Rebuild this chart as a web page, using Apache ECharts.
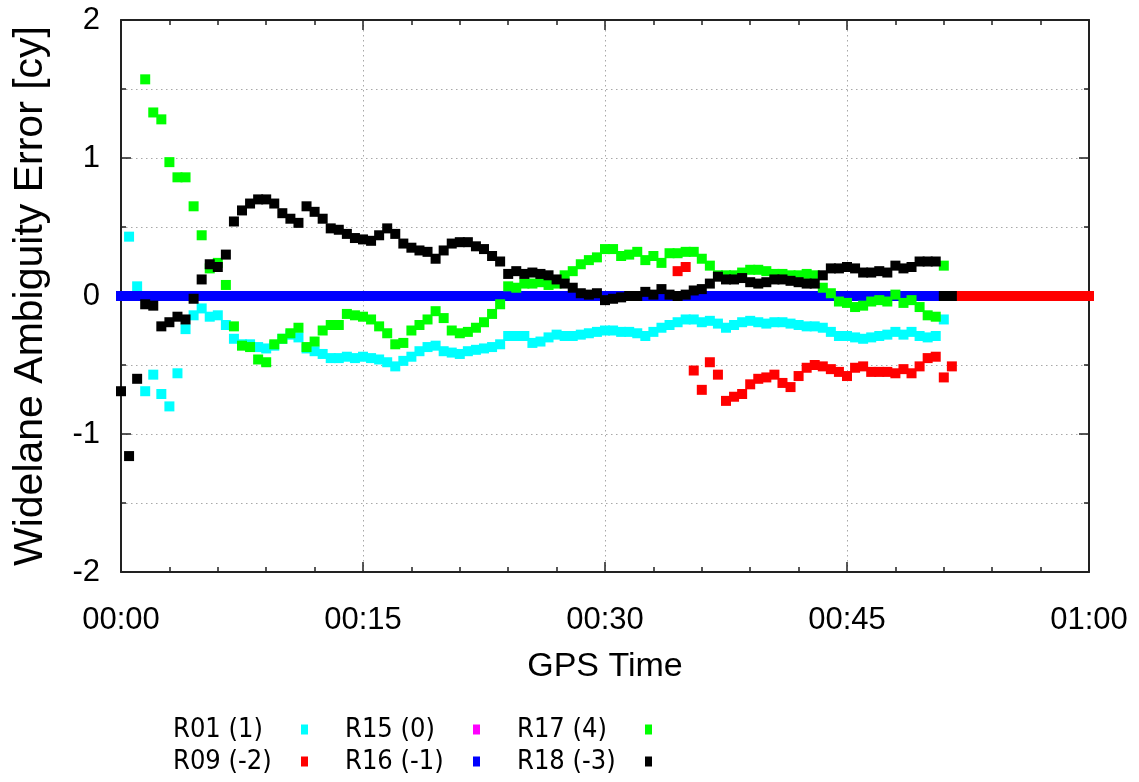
<!DOCTYPE html>
<html>
<head>
<meta charset="utf-8">
<script src="https://cdn.jsdelivr.net/npm/echarts@6/dist/echarts.min.js"></script>
<style>
html,body{margin:0;padding:0;background:#ffffff;}
#chart{width:1139px;height:782px;}
</style>
</head>
<body>
<div id="chart"></div>
<script>
// ---- data (epoch spacing 30 s = 0.5 min; x in minutes of GPS time) ----
const EPOCH_MIN = 0.5;
const xTickMinutes = [0, 15, 30, 45, 60];
const yTickValues = [-2, -1, 0, 1, 2];

const names  = ['R01 (1)', 'R09 (-2)', 'R15 (0)', 'R16 (-1)', 'R17 (4)', 'R18 (-3)'];
const colors = ['#00ffff', '#ff0000', '#ff00ff', '#0000ff', '#00ff00', '#000000'];

// R01 (cyan) starts at epoch 1
const r01Start = 1;
const r01 = [0.43, 0.07, -0.69, -0.57, -0.71, -0.80, -0.56, -0.24, -0.14, -0.09,
  -0.15, -0.14, -0.21, -0.31, -0.35, -0.35, -0.37, -0.38, -0.36, -0.31,
  -0.28, -0.30, -0.38, -0.40, -0.42, -0.45, -0.45, -0.44, -0.45, -0.44,
  -0.45, -0.46, -0.48, -0.51, -0.47, -0.44, -0.40, -0.37, -0.36, -0.40,
  -0.41, -0.42, -0.40, -0.39, -0.38, -0.37, -0.35, -0.29, -0.29, -0.29,
  -0.34, -0.33, -0.30, -0.28, -0.29, -0.29, -0.28, -0.27, -0.26, -0.25,
  -0.25, -0.26, -0.26, -0.27, -0.29, -0.26, -0.23, -0.21, -0.19, -0.17,
  -0.17, -0.19, -0.18, -0.20, -0.23, -0.21, -0.19, -0.18, -0.19, -0.20,
  -0.19, -0.19, -0.20, -0.21, -0.22, -0.22, -0.23, -0.26, -0.29, -0.29,
  -0.30, -0.31, -0.30, -0.29, -0.28, -0.26, -0.28, -0.26, -0.29, -0.30,
  -0.29, -0.17];

// R09 (red) starts at epoch 69
const r09Start = 69;
const r09 = [0.18, 0.21, -0.54, -0.68, -0.48, -0.57, -0.76, -0.73, -0.71, -0.64,
  -0.60, -0.59, -0.57, -0.63, -0.66, -0.58, -0.52, -0.50, -0.51, -0.53,
  -0.55, -0.58, -0.52, -0.51, -0.55, -0.55, -0.55, -0.56, -0.53, -0.56,
  -0.51, -0.45, -0.44, -0.59, -0.51,
  0, 0, 0, 0, 0, 0, 0, 0, 0, 0, 0, 0, 0, 0, 0, 0, 0];

// R15 (magenta): no points
const r15Start = 0;
const r15 = [];

// R16 (blue) starts at epoch 0
const r16Start = 0;
const r16 = [0, 0, 0, 0, 0, 0, 0, 0, 0, 0, 0, 0, 0, 0, 0, 0, 0, 0, 0, 0,
  0, 0, 0, 0, 0, 0, 0, 0, 0, 0, 0, 0, 0, 0, 0, 0, 0, 0, 0, 0,
  0, 0, 0, 0, 0, 0, 0, 0, 0, 0, 0, 0, 0, 0, 0, 0, 0, 0, 0, 0,
  0, 0, 0, 0, 0, 0, 0, 0, 0, 0, 0, 0, 0, 0, 0, 0, 0, 0, 0, 0,
  0, 0, 0, 0, 0, 0, 0, 0, 0, 0, 0, 0, 0, 0, 0, 0, 0, 0, 0, 0,
  0, 0];

// R17 (green) starts at epoch 3
const r17Start = 3;
const r17 = [1.57, 1.33, 1.28, 0.97, 0.86, 0.86, 0.65, 0.44, 0.20, 0.24,
  0.08, -0.22, -0.36, -0.37, -0.46, -0.48, -0.35, -0.31, -0.27, -0.23,
  -0.37, -0.33, -0.25, -0.21, -0.21, -0.13, -0.14, -0.15, -0.17, -0.22,
  -0.27, -0.35, -0.34, -0.25, -0.21, -0.17, -0.11, -0.16, -0.25, -0.27,
  -0.26, -0.23, -0.19, -0.13, -0.06, 0.07, 0.06, 0.09, 0.09, 0.10,
  0.08, 0.09, 0.15, 0.18, 0.23, 0.26, 0.28, 0.34, 0.34, 0.29,
  0.30, 0.32, 0.26, 0.29, 0.24, 0.31, 0.31, 0.32, 0.32, 0.27,
  0.22, 0.15, 0.15, 0.15, 0.17, 0.19, 0.19, 0.18, 0.16, 0.16,
  0.15, 0.15, 0.16, 0.15, 0.06, 0.02, -0.04, -0.05, -0.08, -0.07,
  -0.04, -0.03, -0.04, 0.01, -0.05, -0.03, -0.08, -0.14, -0.15, 0.22];

// R18 (black) starts at epoch 0
const r18Start = 0;
const r18 = [-0.69, -1.16, -0.60, -0.06, -0.07, -0.22, -0.19, -0.15, -0.17, -0.02,
  0.12, 0.23, 0.21, 0.30, 0.54, 0.62, 0.67, 0.70, 0.70, 0.67,
  0.60, 0.56, 0.53, 0.65, 0.61, 0.56, 0.49, 0.48, 0.45, 0.42,
  0.41, 0.40, 0.44, 0.49, 0.45, 0.38, 0.35, 0.33, 0.32, 0.27,
  0.33, 0.38, 0.39, 0.39, 0.36, 0.34, 0.29, 0.25, 0.16, 0.18,
  0.16, 0.17, 0.16, 0.15, 0.12, 0.09, 0.06, 0.02, 0.01, 0.02,
  -0.03, -0.02, -0.01, 0.00, 0.00, 0.03, 0.01, 0.05, 0.01, 0.00,
  0.01, 0.04, 0.05, 0.09, 0.14, 0.12, 0.12, 0.13, 0.10, 0.09,
  0.10, 0.12, 0.12, 0.11, 0.10, 0.09, 0.09, 0.15, 0.20, 0.20,
  0.21, 0.20, 0.17, 0.17, 0.18, 0.17, 0.22, 0.20, 0.21, 0.25,
  0.25, 0.25, 0, 0];

// ---- build ----
function toPairs(start, vals) {
  return vals.map(function (v, i) { return [(start + i) * EPOCH_MIN, v]; });
}
const allSeries = [
  toPairs(r01Start, r01), toPairs(r09Start, r09), toPairs(r15Start, r15),
  toPairs(r16Start, r16), toPairs(r17Start, r17), toPairs(r18Start, r18)
];

const FONT = "'Liberation Sans', Arial, Helvetica, sans-serif";
const NARROW = "'Liberation Sans Narrow', 'DejaVu Sans Condensed', 'Liberation Sans', sans-serif";
const FRAME = '#222222';
const GRIDC = '#a8a8a8';

function timeLabel(v) {
  const h = Math.floor(v / 60), m = Math.round(v % 60);
  return (h < 10 ? '0' : '') + h + ':' + (m < 10 ? '0' : '') + m;
}

const chart = echarts.init(document.getElementById('chart'), null, {renderer: 'canvas'});

const legendCommon = {
  orient: 'horizontal',
  align: 'right',
  icon: 'rect',
  itemWidth: 7,
  itemHeight: 10,
  itemGap: 37,
  padding: 0,
  selectedMode: false,
  formatter: '{t|{name}}',
  textStyle: {
    rich: { t: { width: 123, align: 'left', fontSize: 27, fontFamily: NARROW, color: '#000' } }
  }
};

const option = {
  animation: false,
  backgroundColor: '#ffffff',
  grid: { left: 121, right: 50, top: 20, bottom: 210, containLabel: false },
  xAxis: [
    {
      type: 'value', position: 'bottom', min: xTickMinutes[0], max: xTickMinutes[xTickMinutes.length - 1],
      interval: 15,
      name: 'GPS Time', nameLocation: 'middle', nameGap: 78,
      nameTextStyle: { fontSize: 34, fontFamily: FONT, color: '#000' },
      axisLine: { show: true, onZero: false, lineStyle: { color: FRAME, width: 2 } },
      axisTick: { show: true, inside: true, length: 10, lineStyle: { color: FRAME, width: 1.5 } },
      minorTick: { show: true, splitNumber: 5, length: 5, lineStyle: { color: FRAME, width: 1.5 } },
      axisLabel: { show: true, margin: 33, fontSize: 31, fontFamily: FONT, color: '#000', formatter: timeLabel },
      splitLine: { show: true, lineStyle: { color: GRIDC, width: 1, type: [1.5, 3.5] } }
    },
    {
      type: 'value', position: 'top', min: xTickMinutes[0], max: xTickMinutes[xTickMinutes.length - 1],
      interval: 15,
      axisLine: { show: true, onZero: false, lineStyle: { color: FRAME, width: 2 } },
      axisTick: { show: true, inside: true, length: 10, lineStyle: { color: FRAME, width: 1.5 } },
      minorTick: { show: true, splitNumber: 5, length: 5, lineStyle: { color: FRAME, width: 1.5 } },
      axisLabel: { show: false },
      splitLine: { show: false }
    }
  ],
  yAxis: [
    {
      type: 'value', position: 'left', min: yTickValues[0], max: yTickValues[yTickValues.length - 1],
      interval: 1,
      name: 'Widelane Ambiguity Error [cy]', nameLocation: 'middle', nameGap: 70,
      nameTextStyle: { fontSize: 41, fontFamily: FONT, color: '#000' },
      axisLine: { show: true, onZero: false, lineStyle: { color: FRAME, width: 2 } },
      axisTick: { show: true, inside: true, length: 10, lineStyle: { color: FRAME, width: 1.5 } },
      minorTick: { show: true, splitNumber: 2, length: 5, lineStyle: { color: FRAME, width: 1.5 } },
      axisLabel: { show: true, margin: 21, fontSize: 31, fontFamily: FONT, color: '#000' },
      splitLine: { show: true, lineStyle: { color: GRIDC, width: 1, type: [1.5, 3.5] } },
      minorSplitLine: { show: true, lineStyle: { color: GRIDC, width: 1, type: [1.5, 3.5] } }
    },
    {
      type: 'value', position: 'right', min: yTickValues[0], max: yTickValues[yTickValues.length - 1],
      interval: 1,
      axisLine: { show: true, onZero: false, lineStyle: { color: FRAME, width: 2 } },
      axisTick: { show: true, inside: true, length: 10, lineStyle: { color: FRAME, width: 1.5 } },
      minorTick: { show: true, splitNumber: 2, length: 5, lineStyle: { color: FRAME, width: 1.5 } },
      axisLabel: { show: false },
      splitLine: { show: false }
    }
  ],
  legend: [
    Object.assign({}, legendCommon, { data: [names[0], names[2], names[4]], left: 173, top: 716 }),
    Object.assign({}, legendCommon, { data: [names[1], names[3], names[5]], left: 173, top: 748 })
  ],
  series: names.map(function (n, k) {
    return {
      name: n,
      type: 'scatter',
      xAxisIndex: 0,
      yAxisIndex: 0,
      symbol: 'rect',
      symbolSize: [10, 10],
      clip: false,
      itemStyle: { color: colors[k], opacity: 1 },
      emphasis: { disabled: true },
      data: allSeries[k]
    };
  })
};
chart.setOption(option);
</script>
</body>
</html>
